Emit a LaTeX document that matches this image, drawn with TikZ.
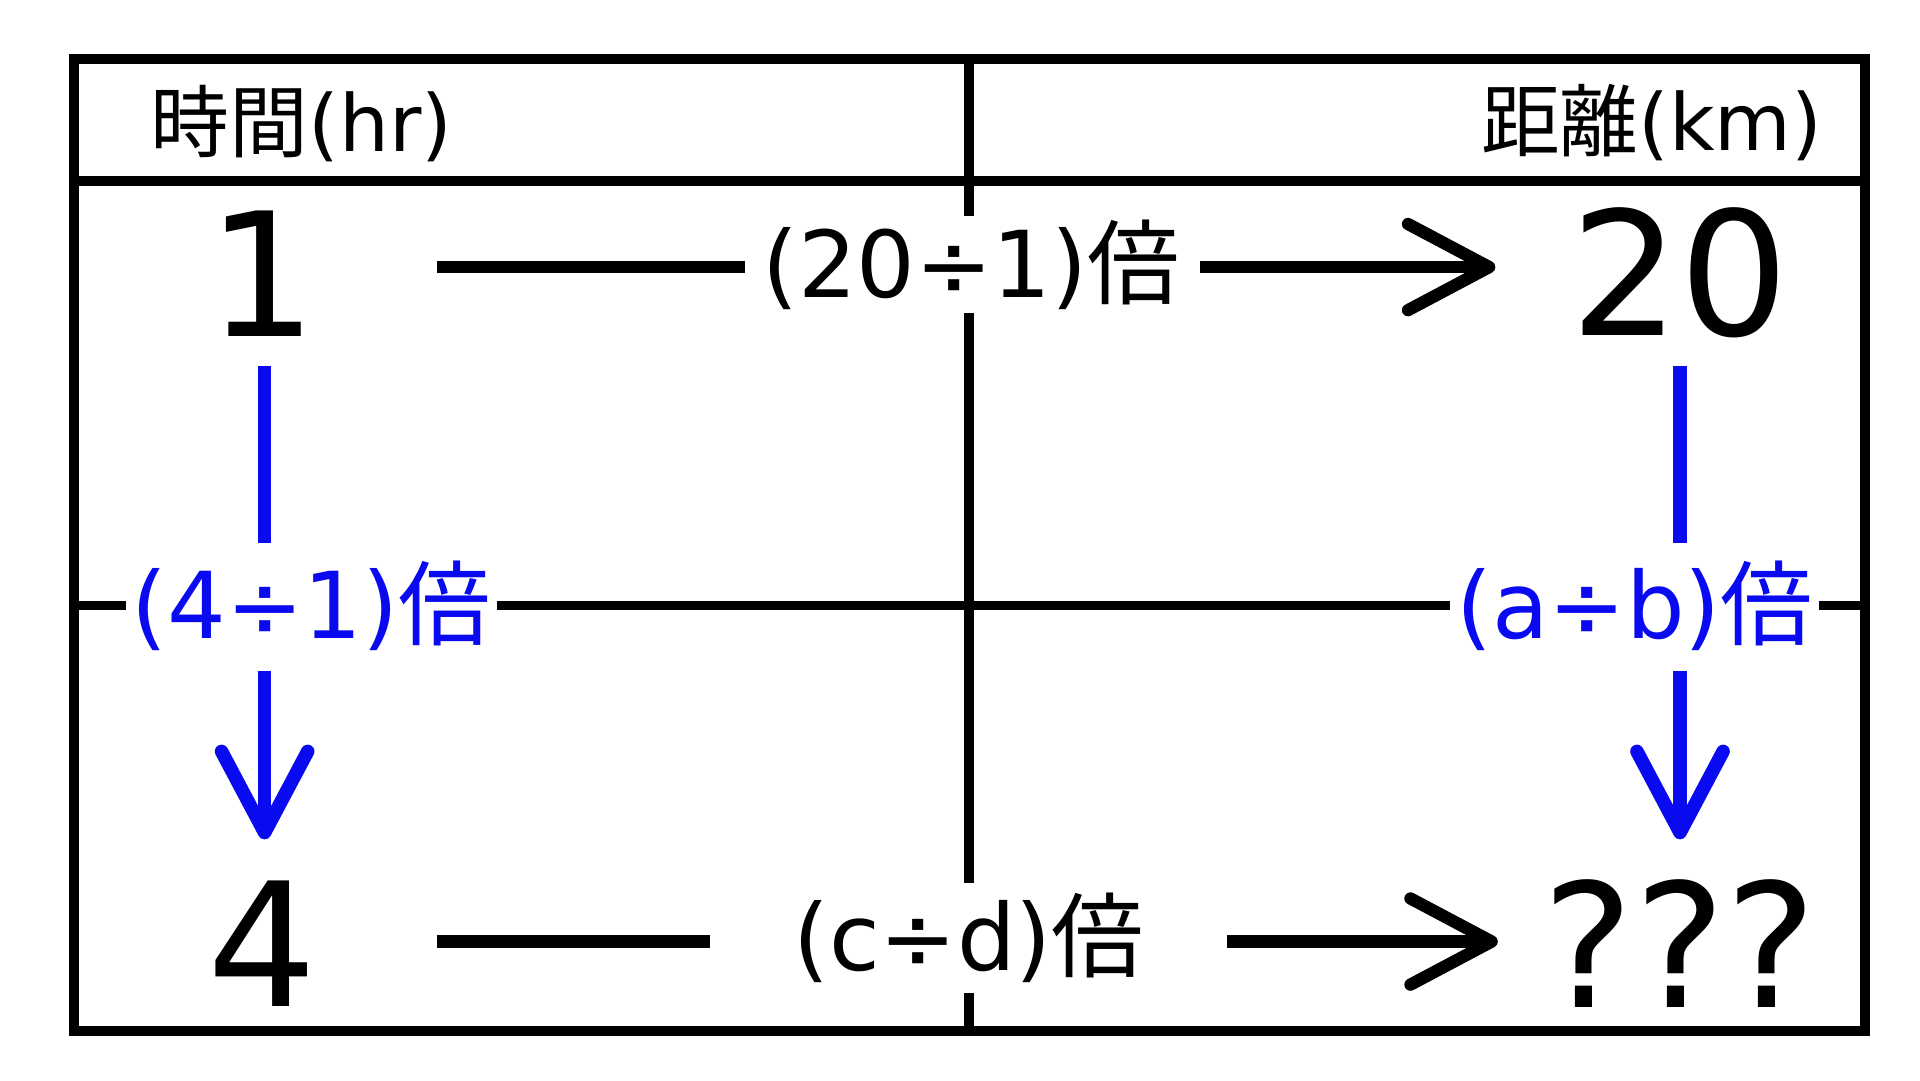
\documentclass[tikz,border=0pt]{standalone}
\usepackage{fontspec}
\setmainfont{DejaVu Sans}
\newfontfamily\cjk{Noto Sans CJK JP}
\usetikzlibrary{arrows.meta}
\definecolor{myblue}{RGB}{10,10,240}
\newcommand{\bai}{{\cjk 倍}}
\begin{document}
\begin{tikzpicture}[x=1pt,y=-1pt,
  frame/.style={line width=8pt},
  blk/.style={line width=10pt},
  blu/.style={line width=11pt,myblue},
  tip/.style={-{Straight Barb[length=66pt,width=70pt,round]}},
  lab/.style={fill=white,inner sep=3pt,font=\fontsize{75}{78}\selectfont},
  big/.style={font=\fontsize{140}{145}\selectfont,inner sep=0pt},
  head/.style={font=\fontsize{64}{68}\selectfont,inner sep=0pt}]
\useasboundingbox (0,0) rectangle (1560,878);
\fill[white] (0,0) rectangle (1560,878);
% grid
\draw[frame] (60,48) rectangle (1515,838);
\draw[frame] (60,147) -- (1515,147);
\coordinate (vt) at (787,48); \coordinate (vb) at (787,838);
\draw[frame] (vt) -- (vb);
\coordinate (ml) at (60,492); \coordinate (mr) at (1515,492);
\draw[frame] (ml) -- (mr);
% headers
\node[head] (h1) at (245,100) {{\cjk 時間}(hr)};
\node[head] (h2) at (1342,100) {{\cjk 距離}(km)};
% numbers
\node[big] (n1) at (213,222) {1};
\node[big] (n20) at (1365,222) {20};
\node[big] (n4) at (213,767) {4};
\node[big] (nq) at (1365,767) {???};
% labels
\node[lab] (l1) at (789,215) {(20÷1)\bai};
\node[lab,inner sep=8pt] (l2) at (787,762) {(c÷d)\bai};
\node[lab,text=myblue,inner sep=5pt] (l3) at (253,492) {(4÷1)\bai};
\node[lab,text=myblue,inner sep=5pt] (l4) at (1328,492) {(a÷b)\bai};
% top arrow
\coordinate (a1) at (355,217); \coordinate (a2) at (605,217);
\coordinate (a3) at (975,217); \coordinate (a4) at (1215,217);
\draw[blk] (a1) -- (a2);
\draw[blk,tip] (a3) -- (a4);
% bottom arrow
\coordinate (b1) at (355,765); \coordinate (b2) at (577,765);
\coordinate (b3) at (997,765); \coordinate (b4) at (1217,765);
\draw[blk] (b1) -- (b2);
\draw[blk,tip] (b3) -- (b4);
% blue left
\coordinate (c1) at (215,297); \coordinate (c2) at (215,441);
\coordinate (c3) at (215,545); \coordinate (c4) at (215,682);
\draw[blu] (c1) -- (c2);
\draw[blu,tip] (c3) -- (c4);
% blue right
\coordinate (d1) at (1365,297); \coordinate (d2) at (1365,441);
\coordinate (d3) at (1365,545); \coordinate (d4) at (1365,682);
\draw[blu] (d1) -- (d2);
\draw[blu,tip] (d3) -- (d4);
\end{tikzpicture}
\end{document}
